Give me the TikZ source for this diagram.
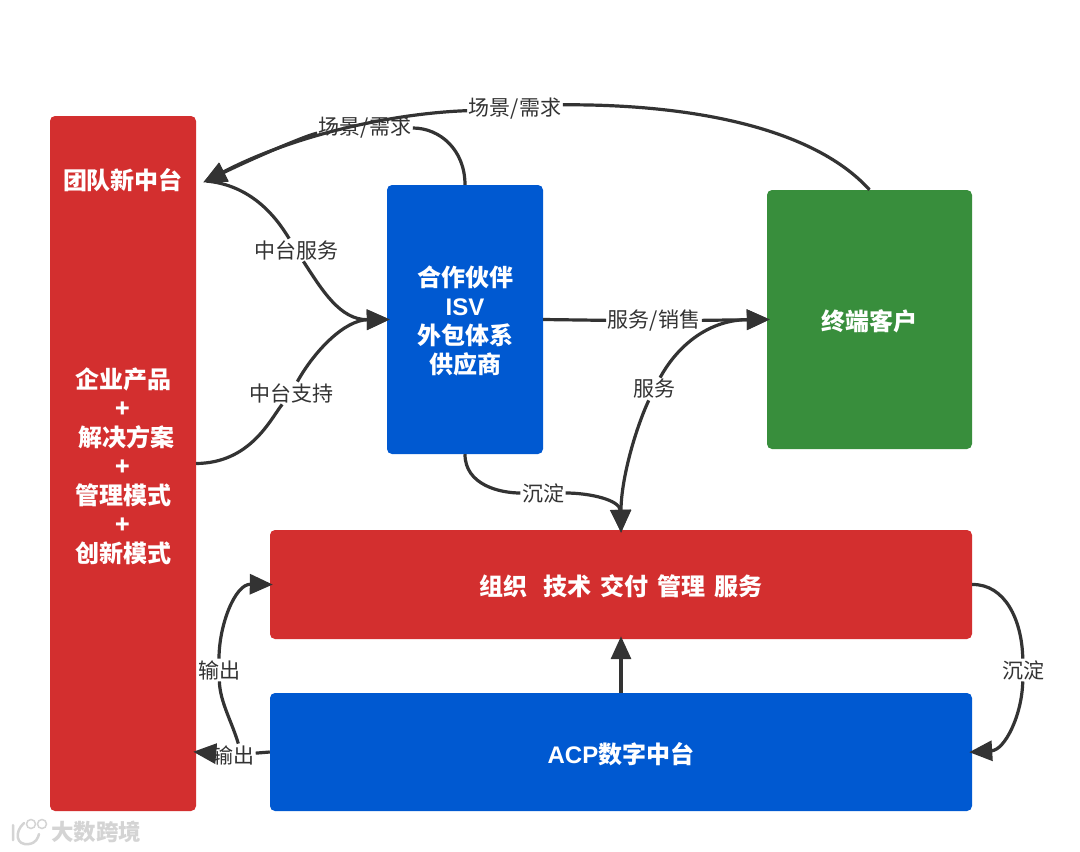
\documentclass[tikz,border=0pt]{standalone}
\usepackage{fontspec}
\setmainfont{Noto Sans CJK SC}
\newfontfamily\latinf{Liberation Sans}
\usetikzlibrary{arrows.meta}
\definecolor{cred}{HTML}{D32F2F}
\definecolor{cblue}{HTML}{0059D1}
\definecolor{cgreen}{HTML}{388E3C}
\definecolor{cink}{HTML}{333333}
\definecolor{cmark}{HTML}{D4D4D4}
\tikzset{
  box/.style={draw=none,rounded corners=5pt,inner sep=0pt,minimum width=#1},
  boxtext/.style={text=white,font=\fontsize{24}{29}\selectfont\bfseries,align=center,inner sep=0pt},
  lab/.style={text=cink,font=\fontsize{21}{24}\selectfont,inner sep=1.5pt},
  conn/.style={draw=cink,line width=3.2pt},
  tip/.style={conn,shorten >=-3pt,-{Triangle[length=23pt,width=20pt]}},
}
\begin{document}
\begin{tikzpicture}[x=1pt,y=-1pt]
\useasboundingbox (0,0) rectangle (1080,852);
\fill[white] (0,0) rectangle (1080,852);
% boxes
\node[box=146pt,fill=cred,minimum height=695pt] (left) at (123,463.5) {};
\node[box=156pt,fill=cblue,minimum height=269pt] (partner) at (465,319.5) {};
\node[box=205pt,fill=cgreen,minimum height=259pt] (cust) at (869.5,319.5) {};
\node[box=702pt,fill=cred,minimum height=109pt] (org) at (621,584.5) {};
\node[box=702pt,fill=cblue,minimum height=118pt] (acp) at (621,752) {};
% box texts
\node[boxtext] (team) at (123,180) {团队新中台};
\node[boxtext] (prod) at (123,466) {企业产品\\+\\\hspace{6pt}解决方案\\+\\管理模式\\+\\创新模式};
\node[boxtext] (ptext) at (465,321) {合作伙伴\\{\latinf\bfseries ISV}\\外包体系\\供应商};
\node[boxtext] (ctext) at (869,321) {终端客户};
\node[boxtext] (otext) at (621,586) {组织\hspace{17pt}技术\hspace{9pt}交付\hspace{9pt}管理\hspace{9pt}服务};
\node[boxtext] (atext) at (621,754) {{\latinf\bfseries ACP}数字中台};
% free ends
\coordinate (teamtip) at (206,181);
\coordinate (lefttip) at (left.east |- acp.west);
% labels
\node[lab] (l1) at (365,128) {场景/需求};
\node[lab] (l2) at (515,109) {场景/需求};
\node[lab] (l3) at (296,250) {中台服务};
\node[lab] (l4) at (291,393) {中台支持};
\node[lab] (l5) at (654,321) {服务/销售};
\node[lab] (l6) at (654,389) {服务};
\node[lab] (l7) at (543,493) {沉淀};
\node[lab] (l8) at (219,670) {输出};
\node[lab] (l9) at (233,755) {输出};
\node[lab] (l10) at (1023,670) {沉淀};
% connectors
\draw[conn] (partner.north) .. controls (465,150) and (440,128) .. (l1);
\draw[tip] (l1) .. controls (310,134) and (260,155) .. (teamtip);
\draw[conn] (cust.north) .. controls (810,124) and (680,104) .. (l2.5);
\draw[tip] (l2) .. controls (400,113) and (300,132) .. (teamtip);
\draw[conn] (teamtip) .. controls (250,185) and (275,215) .. (l3);
\draw[tip] (l3) .. controls (322,290) and (340,320) .. (partner.west);
\draw[conn] (left.east) .. controls (250,463) and (270,420) .. (l4);
\draw[tip] (l4) .. controls (315,350) and (345,320) .. (partner.west);
\draw[conn] (partner.east) -- (l5);
\draw[tip] (l5) -- (cust.west);
\draw[tip] (l6) .. controls (675,350) and (705,320) .. (cust.west);
\draw[tip] (l6) .. controls (635,430) and (621,480) .. (org.north);
\draw[conn] (partner.south) .. controls (465,485) and (500,493) .. (l7);
\draw[tip] (l7) .. controls (590,493) and (620,500) .. (org.north);
\draw[conn] (l9.65) .. controls (232,722) and (220,702) .. (l8);
\draw[tip] (l8) .. controls (219,625) and (235,584) .. (org.west);
\draw[conn] (acp.west) -- (l9);
\draw[tip] (l9) -- (lefttip);
\draw[tip] (acp.north) -- (org.south);
\draw[conn] (org.east) .. controls (1005,584) and (1022,620) .. (l10);
\draw[tip] (l10) .. controls (1022,715) and (1005,750) .. (acp.east);
% watermark
\node[text=cmark,font=\fontsize{22.5}{24}\selectfont\bfseries,inner sep=0pt] (mark) at (96,832) {大数跨境};
\draw[cmark,line width=2.5pt,line cap=round] (13,825) -- (13,840) (24,823) .. controls (14,832) and (16,846) .. (29,844) .. controls (36,843) and (38,838) .. (39,834);
\node[draw=cmark,line width=1.5pt,circle,minimum size=9pt,inner sep=0pt] (m1) at (31,824) {};
\node[draw=cmark,line width=1.5pt,circle,minimum size=9pt,inner sep=0pt] (m2) at (42,824) {};
\end{tikzpicture}
\end{document}
